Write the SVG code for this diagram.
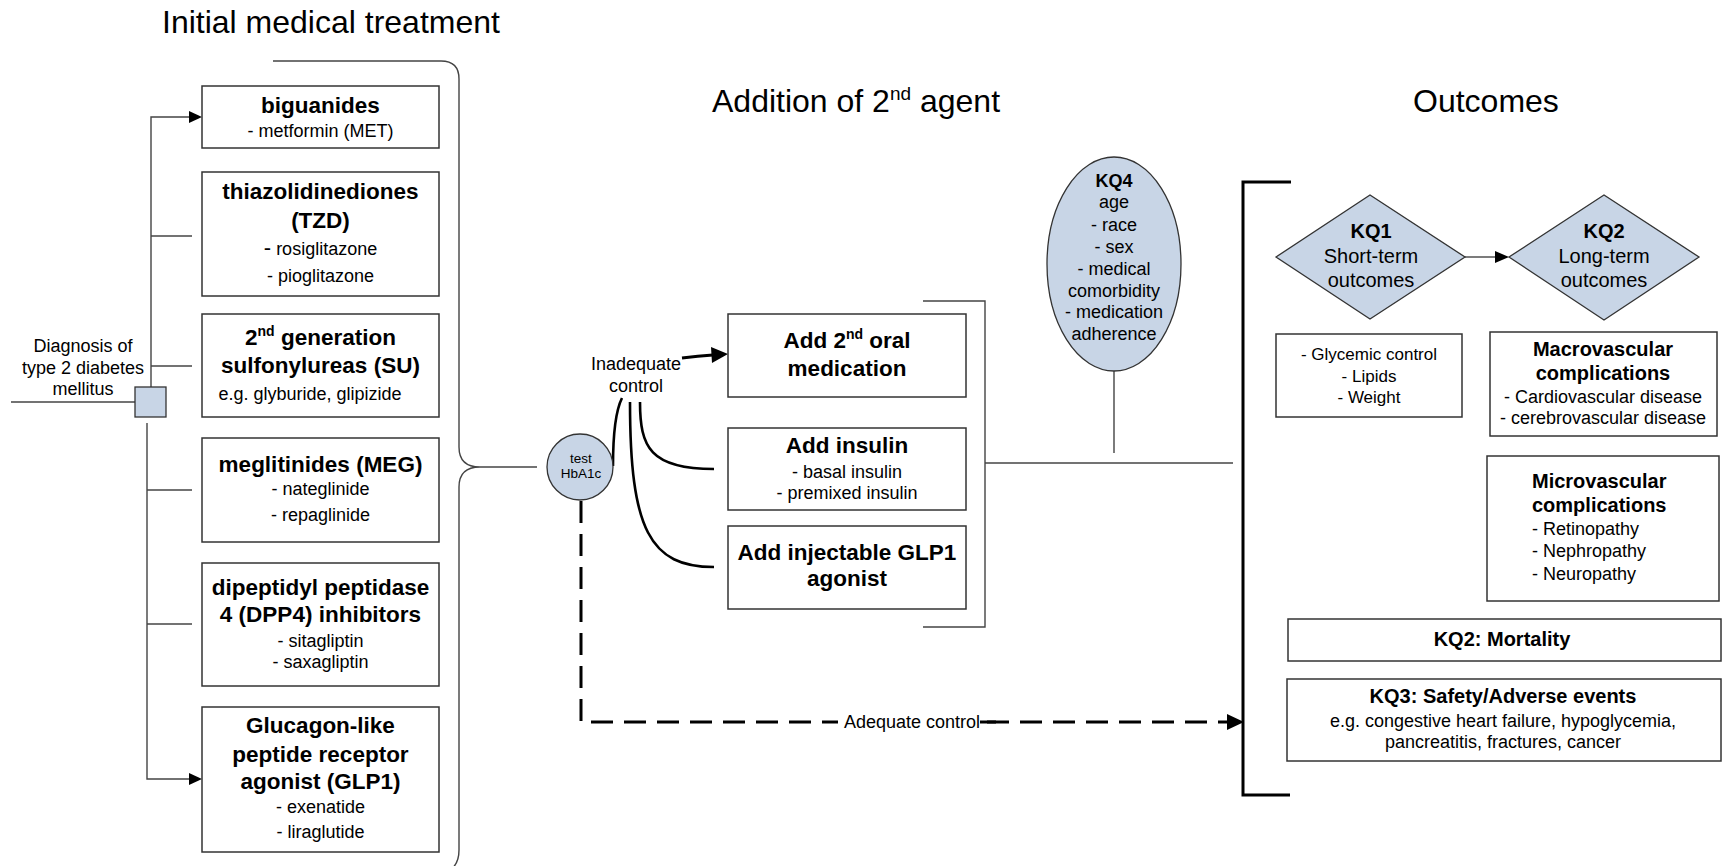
<svg xmlns="http://www.w3.org/2000/svg" width="1722" height="866" viewBox="0 0 1722 866">
<style>
text { font-family: "Liberation Sans", Arial, Helvetica, sans-serif; fill: #000; }
.box { fill: #fff; stroke: #333; stroke-width: 1.5; }
.blue { fill: #c8d5e6; stroke: #333; stroke-width: 1.3; }
.ln { fill: none; stroke: #444; stroke-width: 1.4; }
.thk { fill: none; stroke: #000; stroke-width: 3; }
.crv { fill: none; stroke: #000; stroke-width: 2.6; }
.dash { fill: none; stroke: #000; stroke-width: 3; stroke-dasharray: 22 11; }
.ttl { font-size: 32px; }
.hb { font-size: 22.5px; font-weight: bold; text-anchor: middle; }
.s18 { font-size: 18px; text-anchor: middle; }
.s17 { font-size: 17px; text-anchor: middle; }
.b20 { font-size: 20px; font-weight: bold; text-anchor: middle; }
.r20 { font-size: 20px; text-anchor: middle; }
.b18 { font-size: 18px; font-weight: bold; text-anchor: middle; }
.l18 { font-size: 18px; }
.l20b { font-size: 20px; font-weight: bold; }
.ah { fill: #000; stroke: none; }
</style>

<!-- Titles -->
<text class="ttl" x="162" y="33">Initial medical treatment</text>
<text class="ttl" x="712" y="112">Addition of 2<tspan font-size="19" dy="-12">nd</tspan><tspan dy="12"> agent</tspan></text>
<text class="ttl" x="1413" y="112">Outcomes</text>

<!-- Connectors -->
<g id="connectors">
  <!-- diagnosis lines -->
  <line class="ln" x1="11" y1="402" x2="135" y2="402"/>
  <polyline class="ln" points="151,387 151,117 189,117"/>
  <polygon class="ah" points="189,111 202,117 189,123"/>
  <line class="ln" x1="151" y1="236" x2="192" y2="236"/>
  <line class="ln" x1="151" y1="366" x2="192" y2="366"/>
  <polyline class="ln" points="147,423 147,779 189,779"/>
  <polygon class="ah" points="189,773 202,779 189,785"/>
  <line class="ln" x1="147" y1="490" x2="192" y2="490"/>
  <line class="ln" x1="147" y1="624" x2="192" y2="624"/>

  <!-- left curly brace -->
  <path class="ln" d="M273,61 H441 Q459,61 459,79 V447 Q459,467 480,467 Q459,467 459,487 V850 Q459,866 447,872"/>
  <line class="ln" x1="480" y1="467" x2="537" y2="467"/>

  <!-- inadequate control curves -->
  <path class="crv" d="M613,466 C613,430 616,410 622,398"/>
  <path class="crv" d="M630,402 C630,530 650,567 714,567"/>
  <path class="crv" d="M640,402 C640,447 650,469 714,469"/>
  <path class="thk" d="M682,358 Q698,356 713,355"/>
  <polygon class="ah" points="711,347 728,354 712,363"/>

  <!-- middle bracket -->
  <polyline class="ln" points="923,301 985,301 985,627 923,627"/>
  <line class="ln" x1="985" y1="463" x2="1233" y2="463"/>
  <line class="ln" x1="1114" y1="371" x2="1114" y2="453"/>

  <!-- outcomes bracket -->
  <polyline class="thk" points="1291,182 1243,182 1243,795 1290,795"/>

  <!-- adequate control dashed -->
  <path class="dash" d="M581,501 V722 H1228"/>
  <polygon class="ah" points="1227,714 1244,722 1227,730"/>
  <rect x="838" y="708" width="142" height="26" fill="#fff"/>
  <line x1="980" y1="722" x2="996" y2="722" stroke="#000" stroke-width="3"/>
  <text class="l18" x="844" y="728">Adequate control</text>

  <!-- KQ1 -> KQ2 -->
  <line class="ln" x1="1465" y1="257" x2="1496" y2="257"/>
  <polygon class="ah" points="1495,251 1509,257 1495,263"/>
</g>

<!-- Diagnosis -->
<g id="diagnosis">
  <text class="s18" x="83" y="352">Diagnosis of</text>
  <text class="s18" x="83" y="374">type 2 diabetes</text>
  <text class="s18" x="83" y="395">mellitus</text>
  <rect class="blue" x="135" y="387" width="31" height="30"/>
</g>

<!-- Left drug classes -->
<g id="biguanides">
  <rect class="box" x="202" y="86" width="237" height="62"/>
  <text class="hb" x="320.5" y="113">biguanides</text>
  <text class="s18" x="320.5" y="137">- metformin (MET)</text>
</g>
<g id="tzd">
  <rect class="box" x="202" y="172" width="237" height="124"/>
  <text class="hb" x="320.5" y="199">thiazolidinediones</text>
  <text class="hb" x="320.5" y="228">(TZD)</text>
  <text class="s18" x="320.5" y="255"><tspan font-size="22">-</tspan> rosiglitazone</text>
  <text class="s18" x="320.5" y="282">- pioglitazone</text>
</g>
<g id="su">
  <rect class="box" x="202" y="314" width="237" height="103"/>
  <text class="hb" x="320.5" y="345">2<tspan font-size="14" dy="-9">nd</tspan><tspan dy="9"> generation</tspan></text>
  <text class="hb" x="320.5" y="373">sulfonylureas (SU)</text>
  <text class="s18" x="310" y="400">e.g. glyburide, glipizide</text>
</g>
<g id="meg">
  <rect class="box" x="202" y="438" width="237" height="104"/>
  <text class="hb" x="320.5" y="472">meglitinides (MEG)</text>
  <text class="s18" x="320.5" y="495">- nateglinide</text>
  <text class="s18" x="320.5" y="521">- repaglinide</text>
</g>
<g id="dpp4">
  <rect class="box" x="202" y="563" width="237" height="123"/>
  <text class="hb" x="320.5" y="595">dipeptidyl peptidase</text>
  <text class="hb" x="320.5" y="622">4 (DPP4) inhibitors</text>
  <text class="s18" x="320.5" y="647">- sitagliptin</text>
  <text class="s18" x="320.5" y="668">- saxagliptin</text>
</g>
<g id="glp1">
  <rect class="box" x="202" y="707" width="237" height="145"/>
  <text class="hb" x="320.5" y="733">Glucagon-like</text>
  <text class="hb" x="320.5" y="762">peptide receptor</text>
  <text class="hb" x="320.5" y="789">agonist (GLP1)</text>
  <text class="s18" x="320.5" y="813">- exenatide</text>
  <text class="s18" x="320.5" y="838">- liraglutide</text>
</g>

<!-- Test HbA1c -->
<g id="test">
  <circle class="blue" cx="580" cy="467" r="33"/>
  <text x="581" y="463" font-size="13.5" text-anchor="middle">test</text>
  <text x="581" y="478" font-size="13.5" text-anchor="middle">HbA1c</text>
</g>
<g id="inadequate">
  <text class="s18" x="636" y="370">Inadequate</text>
  <text class="s18" x="636" y="392">control</text>
</g>

<!-- 2nd agents -->
<g id="oral">
  <rect class="box" x="728" y="314" width="238" height="83"/>
  <text class="hb" x="847" y="348">Add 2<tspan font-size="14" dy="-9">nd</tspan><tspan dy="9"> oral</tspan></text>
  <text class="hb" x="847" y="376">medication</text>
</g>
<g id="insulin">
  <rect class="box" x="728" y="428" width="238" height="82"/>
  <text class="hb" x="847" y="453">Add insulin</text>
  <text class="s18" x="847" y="478">- basal insulin</text>
  <text class="s18" x="847" y="499">- premixed insulin</text>
</g>
<g id="injectable">
  <rect class="box" x="728" y="526" width="238" height="83"/>
  <text class="hb" x="847" y="560">Add injectable GLP1</text>
  <text class="hb" x="847" y="586">agonist</text>
</g>

<!-- KQ4 -->
<g id="kq4">
  <ellipse class="blue" cx="1114" cy="264" rx="67" ry="107"/>
  <text class="b18" x="1114" y="187">KQ4</text>
  <text class="s18" x="1114" y="208">age</text>
  <text class="s18" x="1114" y="231">- race</text>
  <text class="s18" x="1114" y="253">- sex</text>
  <text class="s18" x="1114" y="275">- medical</text>
  <text class="s18" x="1114" y="297">comorbidity</text>
  <text class="s18" x="1114" y="318">- medication</text>
  <text class="s18" x="1114" y="340">adherence</text>
</g>

<!-- Outcomes -->
<g id="kq1">
  <polygon class="blue" points="1276,257 1370,195 1465,257 1370,319"/>
  <text class="b20" x="1371" y="238">KQ1</text>
  <text class="r20" x="1371" y="263">Short-term</text>
  <text class="r20" x="1371" y="287">outcomes</text>
</g>
<g id="kq2">
  <polygon class="blue" points="1509,257 1604,195 1699,257 1604,320"/>
  <text class="b20" x="1604" y="238">KQ2</text>
  <text class="r20" x="1604" y="263">Long-term</text>
  <text class="r20" x="1604" y="287">outcomes</text>
</g>
<g id="short-term">
  <rect class="box" x="1276" y="334" width="186" height="83"/>
  <text class="s17" x="1369" y="360">- Glycemic control</text>
  <text class="s17" x="1369" y="382">- Lipids</text>
  <text class="s17" x="1369" y="403">- Weight</text>
</g>
<g id="macro">
  <rect class="box" x="1490" y="332" width="227" height="104"/>
  <text class="b20" x="1603" y="356">Macrovascular</text>
  <text class="b20" x="1603" y="380">complications</text>
  <text class="s18" x="1603" y="403">- Cardiovascular disease</text>
  <text class="s18" x="1603" y="424">- cerebrovascular disease</text>
</g>
<g id="micro">
  <rect class="box" x="1487" y="456" width="232" height="145"/>
  <text class="l20b" x="1532" y="488">Microvascular</text>
  <text class="l20b" x="1532" y="512">complications</text>
  <text class="l18" x="1532" y="535">- Retinopathy</text>
  <text class="l18" x="1532" y="557">- Nephropathy</text>
  <text class="l18" x="1532" y="580">- Neuropathy</text>
</g>
<g id="mortality">
  <rect class="box" x="1288" y="619" width="433" height="42"/>
  <text class="b20" x="1502" y="646">KQ2: Mortality</text>
</g>
<g id="safety">
  <rect class="box" x="1287" y="679" width="434" height="82"/>
  <text class="b20" x="1503" y="703">KQ3: Safety/Adverse events</text>
  <text class="s18" x="1503" y="727">e.g. congestive heart failure, hypoglycemia,</text>
  <text class="s18" x="1503" y="748">pancreatitis, fractures, cancer</text>
</g>
</svg>
